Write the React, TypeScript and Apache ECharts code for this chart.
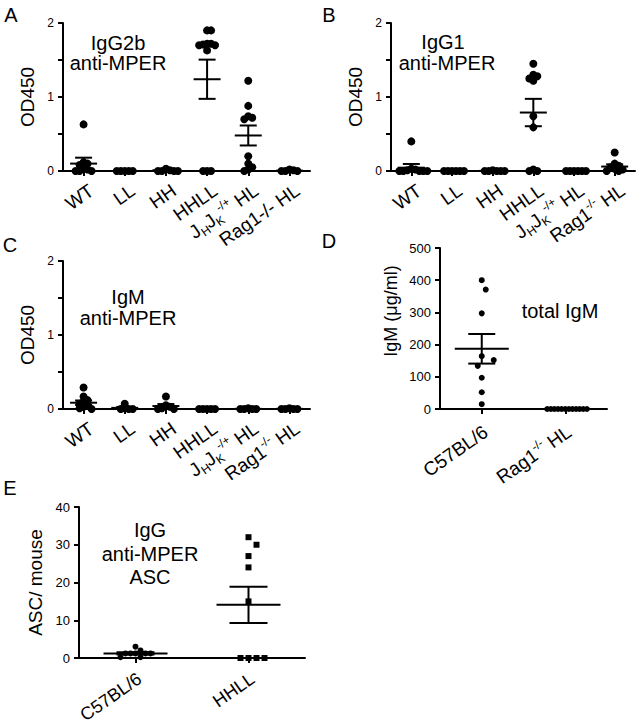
import React, { useEffect, useRef } from 'react';
import * as echarts from 'echarts';

const FONT = "'Liberation Sans', Arial, Helvetica, sans-serif";

// ---------- categories ----------
const elisaCategoriesA = ['WT', 'LL', 'HH', 'HHLL', 'J{sub|H}J{sub|K}{sup|-/+} HL', 'Rag1-/- HL'];
const elisaCategoriesBC = ['WT', 'LL', 'HH', 'HHLL', 'J{sub|H}J{sub|K}{sup|-/+} HL', 'Rag1{sup|-/-} HL'];
const totalIgmCategories = ['C57BL/6', 'Rag1{sup|-/-} HL'];
const ascCategories = ['C57BL/6', 'HHLL'];

// ---------- A: IgG2b anti-MPER (OD450) ----------
const igg2bValues = [
  [0.63, 0.12, 0.1, 0.08, 0.04, 0.02, 0, 0, 0],
  [0, 0, 0, 0, 0],
  [0.03, 0.01, 0, 0, 0, 0],
  [1.9, 1.9, 1.72, 1.72, 1.71, 1.7, 1.7, 1.63, 0, 0, 0],
  [1.22, 0.88, 0.74, 0.72, 0.7, 0.2, 0.1, 0.05, 0.02, 0],
  [0.02, 0.01, 0, 0, 0],
];
const igg2bMean = [0.1, 0, 0.01, 1.24, 0.48, 0.005];
const igg2bSem = [0.08, 0, 0, 0.265, 0.135, 0];

// ---------- B: IgG1 anti-MPER (OD450) ----------
const igg1Values = [
  [0.4, 0.03, 0.02, 0.01, 0, 0, 0, 0, 0],
  [0, 0, 0, 0, 0, 0],
  [0.01, 0, 0, 0, 0, 0],
  [1.45, 1.3, 1.28, 1.25, 1.22, 0.74, 0.59, 0.02, 0, 0],
  [0, 0, 0, 0, 0, 0],
  [0.25, 0.1, 0.07, 0.05, 0.03, 0.02, 0, 0],
];
const igg1Mean = [0.045, 0, 0.002, 0.79, 0, 0.06];
const igg1Sem = [0.05, 0, 0, 0.185, 0, 0.03];

// ---------- C: IgM anti-MPER (OD450) ----------
const igmValues = [
  [0.29, 0.17, 0.12, 0.1, 0.07, 0.05, 0.03, 0.01, 0],
  [0.07, 0.01, 0, 0, 0],
  [0.17, 0.05, 0.03, 0.01, 0, 0],
  [0, 0, 0, 0, 0],
  [0.01, 0, 0, 0, 0],
  [0.01, 0, 0, 0, 0],
];
const igmMean = [0.085, 0.015, 0.04, 0, 0.002, 0.002];
const igmSem = [0.03, 0.013, 0.027, 0, 0, 0];

// ---------- D: total IgM (ug/ml) ----------
const totalIgmValues = [
  [400, 371, 297, 164, 152, 134, 97, 52, 15],
  [0, 0, 0, 0, 0, 0, 0, 0, 0, 0, 0, 0],
];
const totalIgmMean = [187, 0];
const totalIgmSem = [46, 0];

// ---------- E: IgG anti-MPER ASC per mouse ----------
const ascValues = [
  [3, 2, 1.2, 1.2, 1.2, 1.2, 1.2, 0.2, 0.2],
  [32, 30, 27, 24, 15, 0, 0, 0, 0],
];
const ascMean = [1.2, 14.1];
const ascSem = [0.3, 4.8];

// ---------- layout ----------
const gridA = { left: 63, top: 23, width: 247, height: 148 };
const gridB = { left: 391, top: 23, width: 244, height: 148 };
const gridC = { left: 63, top: 261, width: 247, height: 148 };
const gridD = { left: 440, top: 248, width: 167, height: 161 };
const gridE = { left: 79, top: 507, width: 226, height: 151 };

const LINE = { color: '#000', width: 2 };

function swarm(vals: number[], step: number, minDist: number, pxPerUnit: number): number[] {
  const order = vals.map((_, i) => i).sort((a, b) => vals[b] - vals[a]);
  const placed: { x: number; y: number }[] = [];
  const offs = new Array(vals.length).fill(0);
  for (const i of order) {
    const y = vals[i] * pxPerUnit;
    for (let k = 0; k < 200; k++) {
      const c = k === 0 ? 0 : (k % 2 === 1 ? Math.ceil(k / 2) * step : -Math.ceil(k / 2) * step);
      if (placed.every((p) => Math.hypot(p.x - c, p.y - y) >= minDist - 1e-6)) {
        offs[i] = c;
        placed.push({ x: c, y });
        break;
      }
    }
  }
  return offs;
}

function pointsSeries(idx: number, groups: number[][], shapes: string[], r: number, steps: number[][], pxPerUnit: number) {
  const data: number[][] = [];
  groups.forEach((vals, ci) => {
    const [step, minDist] = steps[ci] || steps[0];
    const offs = swarm(vals, step, minDist, pxPerUnit);
    vals.forEach((v, k) => data.push([ci, v, offs[k]]));
  });
  return {
    type: 'custom',
    xAxisIndex: idx,
    yAxisIndex: idx,
    data,
    clip: false,
    z: 3,
    silent: true,
    renderItem: (_p: any, api: any) => {
      const ci = api.value(0);
      const p = api.coord([ci, api.value(1)]);
      const x = p[0] + api.value(2);
      if (shapes[ci] === 'square') {
        return { type: 'rect', shape: { x: x - r, y: p[1] - r, width: 2 * r, height: 2 * r }, style: { fill: '#000' } };
      }
      return { type: 'circle', shape: { cx: x, cy: p[1], r }, style: { fill: '#000' } };
    },
  };
}

function meanSeries(idx: number, means: number[], sems: number[], meanHalf: number, semHalf: number) {
  return {
    type: 'custom',
    xAxisIndex: idx,
    yAxisIndex: idx,
    data: means.map((m, i) => [i, m, sems[i]]),
    clip: false,
    z: 4,
    silent: true,
    renderItem: (_p: any, api: any) => {
      const ci = api.value(0);
      const m = api.value(1);
      const s = api.value(2);
      const pm = api.coord([ci, m]);
      const st = { stroke: '#000', lineWidth: 2 };
      const children: any[] = [
        { type: 'line', shape: { x1: pm[0] - meanHalf, y1: pm[1], x2: pm[0] + meanHalf, y2: pm[1] }, style: st },
      ];
      if (s > 0) {
        const pt = api.coord([ci, m + s]);
        const pb = api.coord([ci, Math.max(m - s, 0)]);
        children.push(
          { type: 'line', shape: { x1: pm[0], y1: pt[1], x2: pm[0], y2: pb[1] }, style: st },
          { type: 'line', shape: { x1: pm[0] - semHalf, y1: pt[1], x2: pm[0] + semHalf, y2: pt[1] }, style: st },
          { type: 'line', shape: { x1: pm[0] - semHalf, y1: pb[1], x2: pm[0] + semHalf, y2: pb[1] }, style: st },
        );
      }
      return { type: 'group', children };
    },
  };
}

const richLabel = {
  sub: { fontSize: 12, verticalAlign: 'bottom', lineHeight: 12, fontFamily: FONT, color: '#000' },
  sup: { fontSize: 12, verticalAlign: 'top', lineHeight: 12, fontFamily: FONT, color: '#000' },
};

function xAxis(idx: number, cats: string[], margin: number, padTop: number, size: number) {
  return {
    type: 'category',
    gridIndex: idx,
    data: cats,
    axisLine: { onZero: false, lineStyle: LINE },
    axisTick: { show: true, alignWithLabel: true, length: 5, lineStyle: LINE },
    axisLabel: {
      rotate: 35, interval: 0, fontSize: size, color: '#000', fontFamily: FONT, margin, lineHeight: 24,
      padding: [padTop, 0, 0, 0],
      rich: richLabel,
    },
    splitLine: { show: false },
  };
}

function yAxis(idx: number, max: number, interval: number, name: string, nameGap: number, labelAll: boolean, labelSize: number) {
  return {
    type: 'value',
    gridIndex: idx,
    min: 0,
    max,
    interval,
    axisLine: { show: true, lineStyle: LINE },
    axisTick: { show: true, length: 5, lineStyle: LINE },
    splitLine: { show: false },
    axisLabel: {
      color: '#000', fontSize: labelSize, fontFamily: FONT, margin: 9,
      formatter: (v: number) => (labelAll || Math.abs(v - Math.round(v)) < 1e-9 ? String(Math.round(v)) : ''),
    },
    name,
    nameLocation: 'middle',
    nameGap,
    nameTextStyle: { color: '#000', fontSize: 19, fontFamily: FONT },
  };
}

function txt(text: string, x: number, y: number, size = 20, rotation = 0) {
  return {
    type: 'text', x, y, rotation, silent: true,
    style: { text, fontSize: size, fontFamily: FONT, fill: '#000', align: 'center', verticalAlign: 'middle' },
  };
}

export default function App() {
  const ref = useRef<HTMLDivElement>(null);
  useEffect(() => {
    if (!ref.current) return;
    const chart = echarts.init(ref.current, null, { renderer: 'svg' });
    const grids = [gridA, gridB, gridC, gridD, gridE].map((g) => ({ ...g, containLabel: false, outerBoundsMode: 'none' }));
    const odPx = gridA.height / 2;
    const odSteps = [[4, 4]];
    chart.setOption({
      animation: false,
      backgroundColor: '#fff',
      textStyle: { fontFamily: FONT },
      grid: grids,
      xAxis: [
        xAxis(0, elisaCategoriesA, 6, 28, 19),
        xAxis(1, elisaCategoriesBC, 6, 28, 19),
        xAxis(2, elisaCategoriesBC, 6, 28, 19),
        xAxis(3, totalIgmCategories, 15, 14, 19),
        xAxis(4, ascCategories, 13, 14, 18),
      ],
      yAxis: [
        yAxis(0, 2, 0.5, 'OD450', 26, false, 12),
        yAxis(1, 2, 0.5, 'OD450', 26, false, 12),
        yAxis(2, 2, 0.5, 'OD450', 26, false, 12),
        { ...yAxis(3, 500, 100, '', 30, true, 13), name: '' },
        yAxis(4, 40, 10, 'ASC/ mouse', 34, true, 13),
      ],
      series: [
        pointsSeries(0, igg2bValues, [], 4, odSteps, odPx),
        meanSeries(0, igg2bMean, igg2bSem, 13.5, 8.5),
        pointsSeries(1, igg1Values, [], 4, odSteps, odPx),
        meanSeries(1, igg1Mean, igg1Sem, 13.5, 8.5),
        pointsSeries(2, igmValues, [], 4, odSteps, odPx),
        meanSeries(2, igmMean, igmSem, 13.5, 8.5),
        pointsSeries(3, totalIgmValues, [], 3, [[4, 10], [3.6, 3.6]], gridD.height / 500),
        meanSeries(3, totalIgmMean, totalIgmSem, 27, 13.5),
        pointsSeries(4, ascValues, ['circle', 'square'], 3, [[5, 5], [8, 8]], gridE.height / 40),
        meanSeries(4, ascMean, ascSem, 32, 19),
      ],
      graphic: [
        txt('A', 11, 15),
        txt('B', 329, 15),
        txt('C', 10, 245),
        txt('D', 329, 241),
        txt('E', 10, 488),
        txt('IgG2b', 118, 43),
        txt('anti-MPER', 118, 63),
        txt('IgG1', 443, 42),
        txt('anti-MPER', 447, 63),
        txt('IgM', 128, 297),
        txt('anti-MPER', 128, 318),
        txt('total IgM', 560, 311),
        txt('IgG', 150, 530),
        txt('anti-MPER', 150, 554),
        txt('ASC', 150, 577),
        txt('IgM (\u03bcg/ml)', 391, 311, 18, Math.PI / 2),
      ],
    });
    return () => chart.dispose();
  }, []);
  return <div ref={ref} style={{ position: 'absolute', left: 0, top: 0, width: 641, height: 728 }} />;
}
